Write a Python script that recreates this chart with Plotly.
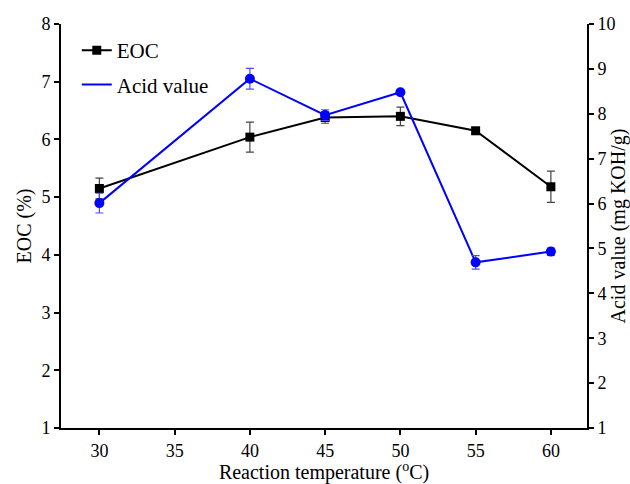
import plotly.graph_objects as go

temps = [30, 40, 45, 50, 55, 60]
eoc = [5.15, 6.04, 6.38, 6.40, 6.15, 5.18]
eoc_err = [0.18, 0.26, 0.10, 0.16, 0.05, 0.27]
acid = [6.01, 8.78, 7.97, 8.48, 4.69, 4.93]
acid_err = [0.22, 0.23, 0.12, 0.05, 0.15, 0.08]

x_ticks = [30, 35, 40, 45, 50, 55, 60]
y1_ticks = [1, 2, 3, 4, 5, 6, 7, 8]
y2_ticks = [1, 2, 3, 4, 5, 6, 7, 8, 9, 10]

FONT = "Liberation Serif, Times New Roman, serif"

fig = go.Figure()

fig.add_trace(go.Scatter(
    x=temps, y=eoc, mode="lines+markers", name="EOC",
    line=dict(color="black", width=2),
    marker=dict(symbol="square", size=9, color="black"),
    error_y=dict(type="data", array=eoc_err, color="#444444", thickness=1.2, width=4),
    legend="legend",
))

fig.add_trace(go.Scatter(
    x=temps, y=acid, mode="lines", name="Acid value",
    line=dict(color="#0000ff", width=2),
    yaxis="y2", legend="legend2",
))
fig.add_trace(go.Scatter(
    x=temps, y=acid, mode="markers", name="Acid value", showlegend=False,
    marker=dict(symbol="circle", size=10, color="#0000ff"),
    error_y=dict(type="data", array=acid_err, color="#4a4aff", thickness=1.2, width=4),
    yaxis="y2",
))

axis_common = dict(
    showline=True, linecolor="black", linewidth=2,
    ticks="outside", ticklen=5, tickwidth=2, tickcolor="black",
    showgrid=False, zeroline=False, automargin=False,
    tickfont=dict(family=FONT, size=18, color="black"),
)

fig.update_layout(
    width=630, height=484,
    margin=dict(l=61, r=43, t=24, b=56),
    plot_bgcolor="white", paper_bgcolor="white",
    font=dict(family=FONT, color="black"),
    xaxis=dict(
        range=[27.45, 62.4], tickvals=x_ticks,
        title=dict(text="Reaction temperature (<sup>o</sup>C)", font=dict(family=FONT, size=20), standoff=4),
        **axis_common,
    ),
    yaxis=dict(
        range=[1, 8], tickvals=y1_ticks,
        title=dict(text="EOC (%)", font=dict(family=FONT, size=20), standoff=4),
        **axis_common,
    ),
    yaxis2=dict(
        range=[1, 10], tickvals=y2_ticks, overlaying="y", side="right",
        title=dict(text="Acid value (mg KOH/g)", font=dict(family=FONT, size=20), standoff=2),
        **axis_common,
    ),
    legend=dict(x=0.03, y=0.985, xanchor="left", yanchor="top",
                bgcolor="rgba(0,0,0,0)", font=dict(family=FONT, size=21)),
    legend2=dict(x=0.03, y=0.90, xanchor="left", yanchor="top",
                 bgcolor="rgba(0,0,0,0)", font=dict(family=FONT, size=21)),
    showlegend=True,
)

fig.write_html("out.html")
